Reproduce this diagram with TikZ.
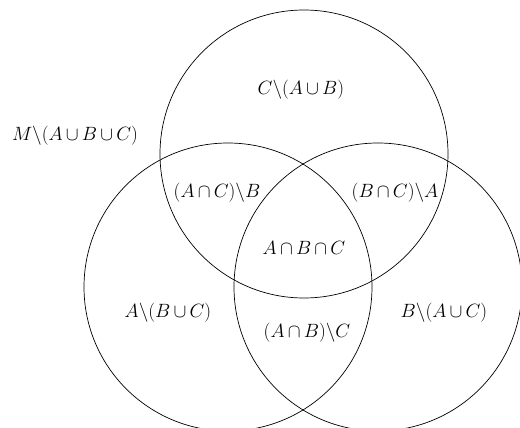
\documentclass[tikz,border=0pt]{standalone}
\usepackage{fix-cm}
\newcommand\vennlabfont{\fontsize{19.2}{23}\selectfont\medmuskip=3mu\relax}
\begin{document}
\begin{tikzpicture}[x=1pt,y=-1pt,
  setc/.style={draw=black,line width=0.7pt},
  lab/.style={font=\vennlabfont,inner sep=0pt}]
\useasboundingbox (0,0) rectangle (520,428);
\begin{scope}
\clip (0,0) rectangle (520,428);
\draw[setc] (228,287) circle[radius=144];
\draw[setc] (378,287) circle[radius=144];
\draw[setc] (304,154) circle[radius=144];
\end{scope}
\node[lab] (c) at (301,90) {$C\backslash(A\cup B)$};
\node[lab] (m) at (75,136) {$M\backslash(A\cup B\cup C)$};
\node[lab] (ac) at (217,193) {$(A\cap C)\backslash B$};
\node[lab] (bc) at (395,193) {$(B\cap C)\backslash A$};
\node[lab] (abc) at (304,248) {$A\cap B\cap C$};
\node[lab] (a) at (168,313) {$A\backslash(B\cup C)$};
\node[lab] (b) at (444,313) {$B\backslash(A\cup C)$};
\node[lab] (ab) at (307,333) {$(A\cap B)\backslash C$};
\end{tikzpicture}
\end{document}
